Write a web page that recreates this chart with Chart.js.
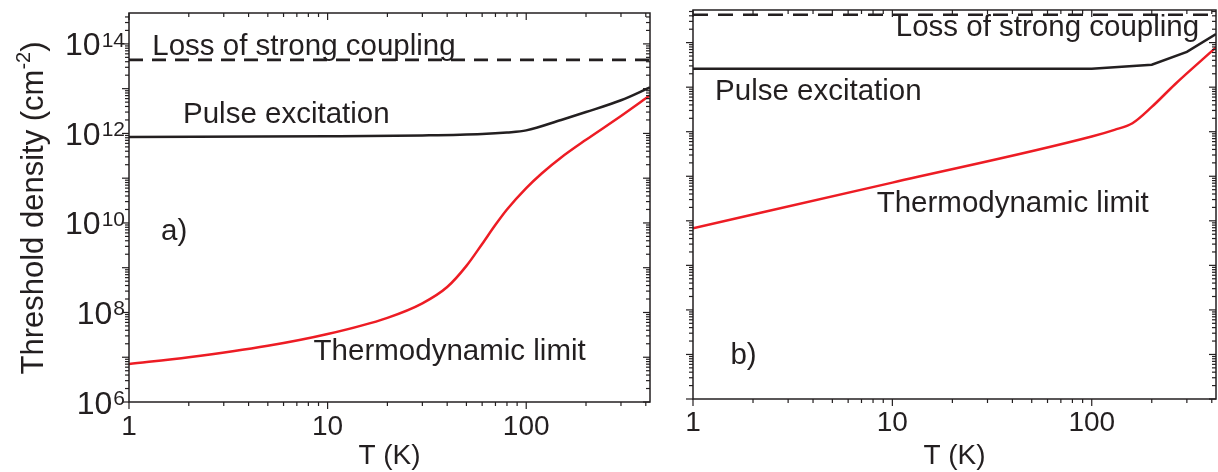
<!DOCTYPE html>
<html lang="en">
<head>
<meta charset="UTF-8">
<title>Threshold density vs temperature</title>
<script src="https://cdn.jsdelivr.net/npm/chart.js"></script>
<style>
  body { margin: 0; background: #fff; }
  .wrap { position: relative; width: 1218px; height: 472px; }
  canvas { position: absolute; top: 0; }
  #panelA { left: 0; }
  #panelB { left: 665px; }
</style>
</head>
<body>
<div class="wrap">
  <canvas id="panelA" width="665" height="472"></canvas>
  <canvas id="panelB" width="553" height="472"></canvas>
</div>
<script>
// temperature axis (K)
const xMajor = [1, 10, 100];
const xLabels = ['1', '10', '100'];
const xMinor = [2, 3, 4, 5, 6, 7, 8, 9, 20, 30, 40, 50, 60, 70, 80, 90, 200, 300, 400];

// density axis (cm^-2), one major tick per decade, labels on every second decade
const yMajor = [1e6, 1e7, 1e8, 1e9, 1e10, 1e11, 1e12, 1e13, 1e14];
const yLabelExp = [6, 8, 10, 12, 14];

// panel a)
const aThermoT = [1, 2, 5, 10, 20, 30, 40, 50, 60, 70, 80, 100, 120, 150, 200, 300, 420];
const aThermo  = [7.1e6, 1.0e7, 1.8e7, 3.3e7, 7.6e7, 1.6e8, 3.7e8, 1.1e9, 3.4e9, 9.1e9, 2.0e10, 6.0e10, 1.29e11, 2.9e11, 7.2e11, 2.45e12, 7.1e12];
const aPulseT  = [1, 10, 30, 60, 80, 100, 150, 200, 300, 420];
const aPulse   = [8.3e11, 8.6e11, 9.0e11, 9.7e11, 1.05e12, 1.17e12, 2.0e12, 3.0e12, 5.5e12, 1.07e13];
const aLossT   = [1, 420];
const aLoss    = [4.4e13, 4.4e13];

// panel b)
const bThermoT = [1, 10, 100, 130, 160, 200, 261, 420];
const bThermo  = [6.8e9, 7.2e10, 7.8e11, 1.1e12, 1.55e12, 3.6e12, 1.15e13, 7.8e13];
const bPulseT  = [1, 100, 200, 300, 420];
const bPulse   = [2.6e13, 2.6e13, 3.2e13, 6.2e13, 1.55e14];
const bLossT   = [1, 420];
const bLoss    = [4.2e14, 4.2e14];

const INK = '#231f20';
const RED = '#ed1c24';
const FONT = "'Liberation Sans', Arial, sans-serif";

const yMinor = yMajor.flatMap(d => [2, 3, 4, 5, 6, 7, 8, 9].map(m => d * m));

const pts = (xs, ys) => xs.map((x, i) => ({ x: x, y: ys[i] }));

function curve(xs, ys, color, extra) {
  return Object.assign({
    data: pts(xs, ys),
    borderColor: color,
    borderWidth: 2.5,
    pointRadius: 0,
    cubicInterpolationMode: 'monotone',
    fill: false
  }, extra || {});
}

// frame, tick marks, superscript labels and in-plot texts
const framePlugin = {
  id: 'frame',
  afterDraw(chart, args, opts) {
    const { ctx, chartArea: a, scales: { x, y } } = chart;
    ctx.save();
    ctx.strokeStyle = INK;
    ctx.lineWidth = 1.5;
    ctx.strokeRect(a.left, a.top, a.right - a.left, a.bottom - a.top);

    const seg = (x1, y1, x2, y2) => {
      ctx.beginPath(); ctx.moveTo(x1, y1); ctx.lineTo(x2, y2); ctx.stroke();
    };
    ctx.lineWidth = 1.2;
    xMajor.concat(xMinor).forEach(v => {
      if (v > x.max) return;
      const px = x.getPixelForValue(v);
      const len = xMajor.includes(v) ? 7 : 4;
      seg(px, a.bottom, px, a.bottom + len);
      seg(px, a.top, px, a.top + len);
    });
    yMajor.concat(yMinor).forEach(v => {
      if (v > y.max) return;
      const py = y.getPixelForValue(v);
      const len = yMajor.includes(v) ? 7 : 4;
      seg(a.left, py, a.left - len, py);
      seg(a.right, py, a.right - len, py);
    });

    ctx.fillStyle = INK;
    ctx.textBaseline = 'alphabetic';

    if (opts.yLabels) {
      yLabelExp.forEach(e => {
        const py = y.getPixelForValue(Math.pow(10, e));
        ctx.font = '21px ' + FONT;
        ctx.textAlign = 'right';
        const ex = String(e);
        const ew = ctx.measureText(ex).width;
        ctx.fillText(ex, a.left - 4, py + 3);
        ctx.font = '32px ' + FONT;
        ctx.fillText('10', a.left - 5 - ew, py + 11.5);
      });
    }

    if (opts.yTitle) {
      ctx.save();
      ctx.translate(opts.yTitle.x, opts.yTitle.y);
      ctx.rotate(-Math.PI / 2);
      ctx.textAlign = 'left';
      const big = '31px ' + FONT, small = '20px ' + FONT;
      ctx.font = big;
      const w1 = ctx.measureText('Threshold density (cm').width;
      const w3 = ctx.measureText(')').width;
      ctx.font = small;
      const w2 = ctx.measureText('-2').width;
      let cx = -(w1 + w2 + w3) / 2;
      ctx.font = big;
      ctx.fillText('Threshold density (cm', cx, 0);
      cx += w1;
      ctx.font = small;
      ctx.fillText('-2', cx, -13);
      cx += w2;
      ctx.font = big;
      ctx.fillText(')', cx, 0);
      ctx.restore();
    }

    ctx.font = '29.5px ' + FONT;
    ctx.textAlign = 'left';
    (opts.notes || []).forEach(n => {
      ctx.fillText(n.text, x.getPixelForValue(n.t), y.getPixelForValue(n.n));
    });
    ctx.restore();
  }
};

function makePanel(id, cfg) {
  return new Chart(document.getElementById(id), {
    type: 'line',
    data: { datasets: cfg.datasets },
    options: {
      responsive: false,
      animation: false,
      devicePixelRatio: 1,
      layout: { padding: cfg.padding },
      plugins: {
        legend: { display: false },
        tooltip: { enabled: false },
        frame: cfg.frame
      },
      scales: {
        x: {
          type: 'logarithmic',
          min: 1,
          max: 420,
          grid: { display: false, drawTicks: false },
          border: { display: false },
          afterBuildTicks: s => { s.ticks = xMajor.map(v => ({ value: v })); },
          afterFit: s => { s.height = cfg.xHeight; },
          ticks: {
            autoSkip: false,
            maxRotation: 0,
            padding: cfg.tickPad,
            color: INK,
            font: { family: FONT, size: 28 },
            callback: v => xLabels[xMajor.indexOf(v)] || ''
          },
          title: {
            display: true,
            text: 'T (K)',
            color: INK,
            font: { family: FONT, size: 28 },
            padding: { top: 0, bottom: -1 }
          }
        },
        y: {
          type: 'logarithmic',
          min: 1e6,
          max: cfg.yMax,
          grid: { display: false, drawTicks: false },
          border: { display: false },
          afterBuildTicks: s => { s.ticks = yMajor.map(v => ({ value: v })); },
          afterFit: s => { s.width = cfg.yWidth; },
          ticks: { display: false }
        }
      }
    },
    plugins: [framePlugin]
  });
}

makePanel('panelA', {
  padding: { top: 13, right: 15, left: 0, bottom: 0 },
  xHeight: 70,
  yWidth: 129,
  yMax: 4.9e14,
  tickPad: 8,
  datasets: [
    curve(aLossT, aLoss, INK, { borderDash: [14, 9], borderWidth: 2.8 }),
    curve(aPulseT, aPulse, INK),
    curve(aThermoT, aThermo, RED)
  ],
  frame: {
    yLabels: true,
    yTitle: { x: 43, y: 208 },
    notes: [
      { text: 'Loss of strong coupling', t: 1.31, n: 5.6e13 },
      { text: 'Pulse excitation', t: 1.87, n: 1.74e12 },
      { text: 'a)', t: 1.45, n: 4.2e9 },
      { text: 'Thermodynamic limit', t: 8.5, n: 8.7e6 }
    ]
  }
});

makePanel('panelB', {
  padding: { top: 10, right: 2, left: 0, bottom: 0 },
  xHeight: 73,
  yWidth: 28,
  yMax: 5.4e14,
  tickPad: 7,
  datasets: [
    curve(bLossT, bLoss, INK, { borderDash: [15, 10], borderWidth: 2.5 }),
    curve(bPulseT, bPulse, INK, { cubicInterpolationMode: 'default', tension: 0 }),
    curve(bThermoT, bThermo, RED)
  ],
  frame: {
    yLabels: false,
    notes: [
      { text: 'Loss of strong coupling', t: 10.4, n: 1.38e14 },
      { text: 'Pulse excitation', t: 1.29, n: 5.2e12 },
      { text: 'Thermodynamic limit', t: 8.34, n: 1.6e10 },
      { text: 'b)', t: 1.54, n: 6.0e6 }
    ]
  }
});
</script>
</body>
</html>
